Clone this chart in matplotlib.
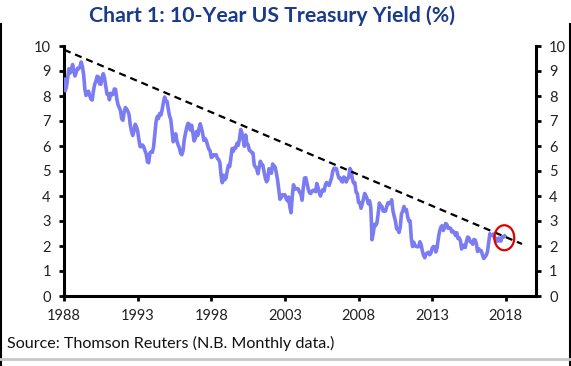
import matplotlib
matplotlib.use("Agg")
import matplotlib.pyplot as plt
from matplotlib.patches import Ellipse
from matplotlib.lines import Line2D
import numpy as np

# Monthly 10-year US Treasury yield (%), Jan 1988 - Dec 2017
start_year = 1988
yields = [
    8.67, 8.21, 8.37, 8.72, 9.09, 8.92, 9.06, 9.26, 8.98, 8.80, 8.96, 9.11,  # 1988
    9.09, 9.17, 9.36, 9.18, 8.86, 8.28, 8.02, 8.11, 8.19, 8.01, 7.87, 7.84,  # 1989
    8.21, 8.47, 8.59, 8.79, 8.76, 8.48, 8.47, 8.75, 8.89, 8.72, 8.39, 8.08,  # 1990
    8.09, 7.85, 8.11, 8.04, 8.07, 8.28, 8.27, 7.90, 7.65, 7.53, 7.42, 7.09,  # 1991
    7.03, 7.34, 7.54, 7.48, 7.39, 7.26, 6.84, 6.59, 6.42, 6.59, 6.87, 6.77,  # 1992
    6.60, 6.26, 5.98, 5.97, 6.04, 5.96, 5.81, 5.68, 5.36, 5.33, 5.72, 5.77,  # 1993
    5.75, 5.97, 6.48, 6.97, 7.18, 7.10, 7.30, 7.24, 7.46, 7.74, 7.96, 7.81,  # 1994
    7.78, 7.47, 7.20, 7.06, 6.63, 6.17, 6.28, 6.49, 6.20, 6.04, 5.93, 5.71,  # 1995
    5.65, 5.81, 6.27, 6.51, 6.74, 6.91, 6.87, 6.64, 6.83, 6.53, 6.20, 6.30,  # 1996
    6.58, 6.42, 6.69, 6.89, 6.71, 6.49, 6.22, 6.30, 6.21, 6.03, 5.88, 5.81,  # 1997
    5.54, 5.57, 5.65, 5.64, 5.65, 5.50, 5.46, 5.34, 4.81, 4.53, 4.83, 4.65,  # 1998
    4.72, 5.00, 5.23, 5.18, 5.54, 5.90, 5.79, 5.94, 5.92, 6.11, 6.03, 6.28,  # 1999
    6.66, 6.52, 6.26, 5.99, 6.44, 6.10, 6.05, 5.83, 5.80, 5.74, 5.72, 5.24,  # 2000
    5.16, 5.10, 4.89, 5.14, 5.39, 5.28, 5.24, 4.97, 4.73, 4.57, 4.65, 5.09,  # 2001
    5.04, 4.91, 5.28, 5.21, 5.16, 4.93, 4.65, 4.26, 3.87, 3.94, 4.05, 4.03,  # 2002
    4.05, 3.90, 3.81, 3.96, 3.57, 3.33, 3.98, 4.45, 4.27, 4.29, 4.30, 4.27,  # 2003
    4.15, 4.08, 3.83, 4.35, 4.72, 4.73, 4.50, 4.28, 4.13, 4.10, 4.19, 4.23,  # 2004
    4.22, 4.17, 4.50, 4.34, 4.14, 4.00, 4.18, 4.26, 4.20, 4.46, 4.54, 4.47,  # 2005
    4.42, 4.57, 4.72, 4.99, 5.11, 5.11, 5.09, 4.88, 4.72, 4.73, 4.60, 4.56,  # 2006
    4.76, 4.72, 4.56, 4.69, 4.75, 5.10, 5.00, 4.67, 4.52, 4.53, 4.15, 4.10,  # 2007
    3.74, 3.74, 3.51, 3.68, 3.88, 4.10, 4.01, 3.89, 3.69, 3.81, 3.53, 2.25,  # 2008
    2.52, 2.87, 2.82, 2.93, 3.29, 3.72, 3.56, 3.59, 3.40, 3.39, 3.40, 3.59,  # 2009
    3.73, 3.69, 3.73, 3.85, 3.42, 3.20, 3.01, 2.70, 2.65, 2.54, 2.76, 3.29,  # 2010
    3.39, 3.58, 3.41, 3.46, 3.17, 3.00, 3.00, 2.30, 1.98, 2.15, 2.01, 1.98,  # 2011
    1.97, 1.97, 2.17, 2.05, 1.80, 1.62, 1.53, 1.68, 1.72, 1.75, 1.65, 1.72,  # 2012
    1.91, 1.98, 1.96, 1.76, 1.93, 2.30, 2.58, 2.74, 2.81, 2.62, 2.72, 2.90,  # 2013
    2.86, 2.71, 2.72, 2.71, 2.56, 2.60, 2.54, 2.42, 2.53, 2.30, 2.33, 2.21,  # 2014
    1.88, 1.98, 2.04, 1.94, 2.20, 2.36, 2.32, 2.17, 2.17, 2.07, 2.26, 2.24,  # 2015
    2.09, 1.78, 1.89, 1.81, 1.81, 1.64, 1.50, 1.56, 1.63, 1.76, 2.14, 2.49,  # 2016
    2.43, 2.42, 2.48, 2.30, 2.30, 2.19, 2.32, 2.21, 2.20, 2.36, 2.35, 2.40,  # 2017
]

trend_x = [1988.0, 2019.1]
trend_y = [9.85, 2.08]

circle_center = (2017.9, 2.33)

x_ticks = [1988, 1993, 1998, 2003, 2008, 2013, 2018]
y_ticks = [0, 1, 2, 3, 4, 5, 6, 7, 8, 9, 10]

title = "Chart 1: 10-Year US Treasury Yield (%)"
source = "Source: Thomson Reuters (N.B. Monthly data.)"

plt.rcParams['font.family'] = ['Lato', 'DejaVu Sans']

W, H = 571, 366
fig = plt.figure(figsize=(W / 100, H / 100), dpi=100)
ax = fig.add_axes([64 / W, 70 / H, (536 - 64) / W, 250 / H])

dates = start_year + np.arange(len(yields)) / 12.0
ax.plot(dates, yields, color='#7b7cf2', lw=2.6, solid_joinstyle='round', zorder=3)
ax.plot(trend_x, trend_y, color='black', lw=1.6, ls=(0, (3.2, 2.2)), zorder=4)

ell = Ellipse(circle_center, width=1.35, height=1.0, fill=False,
              edgecolor='#e00000', lw=1.6, zorder=5)
ax.add_patch(ell)

ax.set_xlim(1988, 2020.05)
ax.set_ylim(0, 10)
ax.set_xticks(x_ticks)
ax.set_yticks(y_ticks)

for s in ['left', 'right', 'bottom']:
    ax.spines[s].set_linewidth(2.2)
    ax.spines[s].set_color('black')
ax.spines['top'].set_visible(False)

ax.tick_params(axis='both', which='major', direction='out', length=3.5,
               width=2, color='black', labelsize=10.5, labelcolor='#222222')
ax.tick_params(axis='y', left=True, right=True, labelleft=True, labelright=True, pad=6)
ax.tick_params(axis='x', pad=6)

fig.text(0.477, 1 - 16 / H, title, ha='center', va='center', fontsize=15.3,
         fontweight='bold', color='#1a3a8a')
fig.text(7 / W, 1 - 343 / H, source, ha='left', va='center', fontsize=11.6,
         color='#111111')

# frame lines
fig.add_artist(Line2D([1 / W, 1 / W], [0, 1 - 24 / H], transform=fig.transFigure,
                      color='black', lw=1.5))
fig.add_artist(Line2D([1 - 1 / W, 1 - 1 / W], [0, 1 - 24 / H], transform=fig.transFigure,
                      color='black', lw=1.5))
fig.add_artist(Line2D([0, 1], [1 - 359 / H, 1 - 359 / H], transform=fig.transFigure,
                      color='#c8c8c8', lw=2))

fig.savefig('out.png', dpi=100)
